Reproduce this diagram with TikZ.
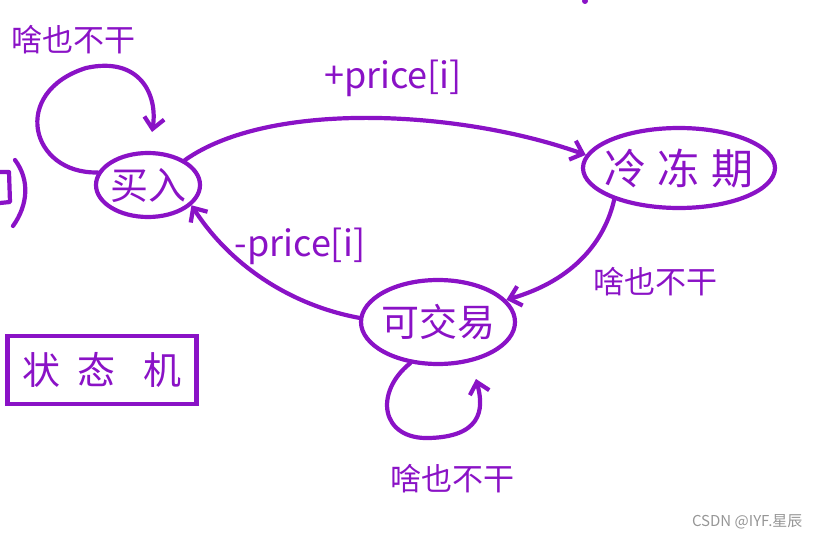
\documentclass[tikz,border=0pt]{standalone}
\usepackage{fontspec}
\setmainfont{Noto Sans CJK SC}
\newfontfamily\cjk{Noto Sans CJK SC}
\usetikzlibrary{shapes.geometric,arrows.meta}
\definecolor{ink}{RGB}{138,18,198}
\definecolor{mark}{RGB}{150,150,150}
\begin{document}
\begin{tikzpicture}[x=1pt,y=-1pt,
  ink line/.style={draw=ink,line width=4.2pt,line cap=round,line join=round},
  statebox/.style={ellipse,ink line,text=ink,inner ysep=0pt,inner xsep=-16pt},
  arr/.style={ink line,-{Straight Barb[length=11pt,width=20pt,line width=4.2pt]}},
  lbl/.style={text=ink,font=\cjk\fontsize{36}{38}\selectfont},
  slbl/.style={text=ink,font=\cjk\fontsize{31}{33}\selectfont}]
\useasboundingbox (0,0) rectangle (820,543);
% states
\node[statebox,minimum width=104pt,minimum height=64pt,font=\cjk\fontsize{38}{40}\selectfont] (buy) at (148,185) {买入};
\node[statebox,minimum width=192pt,minimum height=80pt,font=\cjk\fontsize{42}{44}\selectfont] (frozen) at (679,168) {冷\;冻\;期};
\node[statebox,minimum width=154pt,minimum height=84pt,font=\cjk\fontsize{38}{40}\selectfont] (trade) at (438,322) {可交易};
\node[draw=ink,line width=4.2pt,text=ink,minimum width=189pt,minimum height=68pt,font=\cjk\fontsize{38}{40}\selectfont] (legend) at (102,370) {状\;\,态\;\;\,机};
% free ends
\coordinate (buytip) at (152,132);
\coordinate (tradetip) at (476,379);
% self loop on buy
\draw[arr] (buy.166) .. controls (30,174) and (10,92) .. (86,68)
  .. controls (140,56) and (158,95) .. (buytip);
\node[slbl] (l1) at (74,40) {啥也不干};
% buy -> frozen
\draw[arr] (buy.34) .. controls (270,100) and (460,110) .. (frozen.172);
\node[lbl] (l2) at (393,78) {+price[i]};
% frozen -> trade
\draw[arr] (frozen.206) .. controls (605,240) and (575,280) .. (trade.18);
\node[slbl] (l3) at (655,282) {啥也不干};
% trade -> buy
\draw[arr] (trade.177) .. controls (290,305) and (230,265) .. (buy.335);
\node[lbl] (l4) at (300,246) {-price[i]};
% self loop on trade
\draw[arr] (trade.236) .. controls (374,392) and (380,440) .. (430,438)
  .. controls (488,436) and (482,402) .. (tradetip);
\node[slbl] (l5) at (452,479) {啥也不干};
% fragments at the edges
\draw[ink line] (0,172) -- (9,172) -- (10,202) -- (0,203);
\draw[ink line] (15,160) .. controls (30,180) and (28,205) .. (13,226);
\fill[ink] (585,1) circle (3);
% watermark
\node[text=mark,font=\cjk\fontsize{15}{16}\selectfont,anchor=east] (wm) at (806,522) {CSDN @IYF.星辰};
\end{tikzpicture}
\end{document}
